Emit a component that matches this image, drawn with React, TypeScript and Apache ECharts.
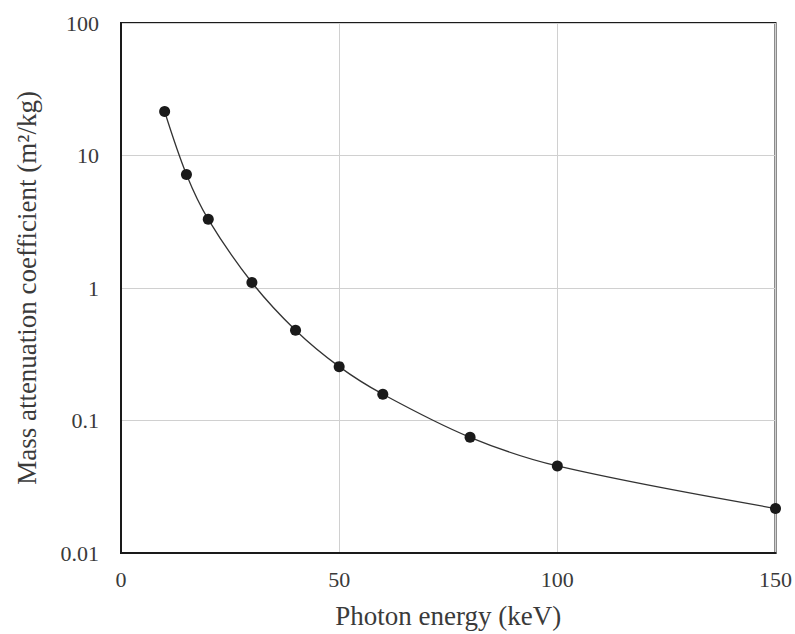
import React, { useEffect, useRef } from "react";
import * as echarts from "echarts";

const energies = [10, 15, 20, 30, 40, 50, 60, 80, 100, 150];
const coefficients = [21.5, 7.2, 3.3, 1.1, 0.48, 0.255, 0.158, 0.0747, 0.0454, 0.0217];
const xTicks = [0, 50, 100, 150];
const yTickLabels = ["0.01", "0.1", "1", "10", "100"];

const FONT = "'Liberation Serif', 'Times New Roman', serif";

export default function App() {
  const ref = useRef<HTMLDivElement>(null);
  useEffect(() => {
    if (!ref.current) return;
    const chart = echarts.init(ref.current, null, { renderer: "svg" });
    const yMap: Record<string, string> = {};
    yTickLabels.forEach((l) => (yMap[String(Math.round(Math.log10(parseFloat(l))))] = l));
    chart.setOption({
      animation: false,
      backgroundColor: "#ffffff",
      grid: {
        left: 121,
        right: 19,
        top: 23,
        bottom: 81,
        show: true,
        borderColor: "#1a1a1a",
        borderWidth: 2,
        backgroundColor: "transparent",
      },
      xAxis: {
        type: "value",
        min: xTicks[0],
        max: xTicks[xTicks.length - 1],
        interval: 50,
        name: "Photon energy (keV)",
        nameLocation: "middle",
        nameGap: 49,
        nameTextStyle: { fontFamily: FONT, fontSize: 27, color: "#3a3a3a" },
        axisLine: { show: true, lineStyle: { color: "#1a1a1a", width: 2 } },
        axisTick: { show: false },
        axisLabel: {
          fontFamily: FONT,
          fontSize: 22,
          color: "#3a3a3a",
          margin: 15,
          formatter: (v: number) => String(v),
        },
        splitLine: { show: true, lineStyle: { color: "#d0d0d0", width: 1 } },
      },
      yAxis: {
        type: "log",
        logBase: 10,
        min: 0.01,
        max: 100,
        name: "Mass attenuation coefficient (m\u00B2/kg)",
        nameLocation: "middle",
        nameGap: 81,
        nameTextStyle: { fontFamily: FONT, fontSize: 27, color: "#3a3a3a" },
        axisLine: { show: true, lineStyle: { color: "#1a1a1a", width: 2 } },
        axisTick: { show: false },
        axisLabel: {
          fontFamily: FONT,
          fontSize: 22,
          color: "#3a3a3a",
          margin: 22,
          formatter: (v: number) => {
            const k = String(Math.round(Math.log10(v)));
            return yMap[k] ?? String(v);
          },
        },
        splitLine: { show: true, lineStyle: { color: "#d0d0d0", width: 1 } },
      },
      series: [
        {
          type: "line",
          data: energies.map((e, i) => [e, coefficients[i]]),
          smooth: 0.35,
          symbol: "circle",
          symbolSize: 11,
          itemStyle: { color: "#1a1a1a" },
          lineStyle: { color: "#333", width: 1.3 },
          clip: false,
          z: 5,
        },
      ],
    });
    return () => chart.dispose();
  }, []);
  return <div ref={ref} style={{ width: 795, height: 634, position: "absolute", left: 0, top: 0 }} />;
}
